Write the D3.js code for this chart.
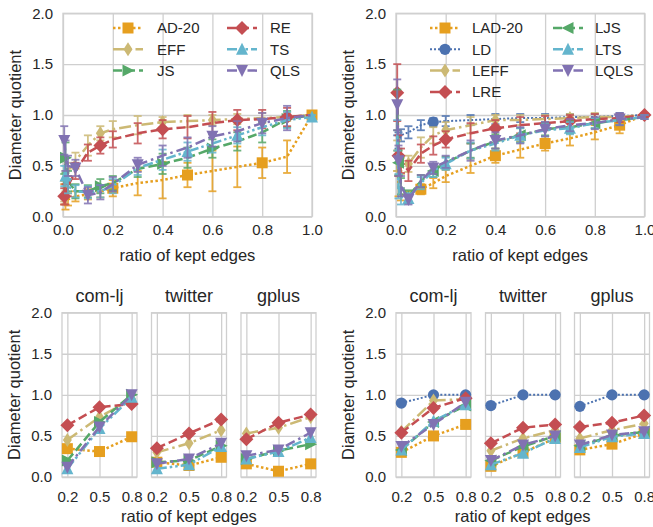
<!DOCTYPE html>
<html>
<head>
<meta charset="utf-8">
<script src="https://cdn.jsdelivr.net/npm/d3@7"></script>
<style>
  html, body { margin: 0; padding: 0; background: #ffffff; }
  svg { display: block; font-family: "Liberation Sans", Arial, sans-serif; }
</style>
</head>
<body>
<svg id="chart" width="653" height="527"></svg>
<script>
// ---------------- data ----------------
const X_RATIO = [0.005, 0.01, 0.02, 0.05, 0.1, 0.15, 0.2, 0.3, 0.4, 0.5, 0.6, 0.7, 0.8, 0.9, 1.0];
const Y_TICKS = [0, 0.5, 1.0, 1.5, 2.0];
const X_TICKS = [0, 0.2, 0.4, 0.6, 0.8, 1.0];

// plain methods
const AD20      = [0.22, 0.15, 0.17, 0.20, 0.22, 0.25, 0.28, 0.33, 0.36, 0.41, 0.45, 0.49, 0.53, 0.59, 1.00];
const AD20_ERR  = [0.10, 0.08, 0.06, 0.05, 0.05, 0.06, 0.08, 0.12, 0.18, 0.12, 0.20, 0.20, 0.15, 0.16, 0.00];
const AD20_MARK = [6, 9, 12, 14];
const EFF       = [0.25, 0.35, 0.45, 0.55, 0.70, 0.82, 0.86, 0.90, 0.93, 0.94, 0.95, 0.96, 0.97, 0.98, 1.00];
const EFF_ERR   = [0.10, 0.10, 0.08, 0.08, 0.10, 0.07, 0.08, 0.09, 0.05, 0.06, 0.05, 0.05, 0.05, 0.04, 0.00];
const EFF_MARK  = [5, 8, 10];
const JS        = [0.30, 0.58, 0.35, 0.25, 0.25, 0.30, 0.33, 0.47, 0.52, 0.58, 0.67, 0.74, 0.83, 0.96, 1.00];
const JS_ERR    = [0.12, 0.15, 0.10, 0.07, 0.06, 0.07, 0.07, 0.08, 0.10, 0.10, 0.09, 0.09, 0.10, 0.08, 0.00];
const JS_MARK   = [1, 5, 8, 10, 13];
const RE        = [0.20, 0.22, 0.30, 0.45, 0.63, 0.70, 0.76, 0.82, 0.86, 0.88, 0.92, 0.95, 0.96, 0.98, 1.00];
const RE_ERR    = [0.08, 0.10, 0.10, 0.08, 0.08, 0.08, 0.08, 0.10, 0.09, 0.11, 0.11, 0.10, 0.09, 0.09, 0.00];
const RE_MARK   = [0, 5, 8, 11, 13];
const TS        = [0.40, 0.40, 0.30, 0.25, 0.24, 0.25, 0.30, 0.48, 0.56, 0.64, 0.72, 0.80, 0.88, 0.95, 0.98];
const TS_ERR    = [0.10, 0.10, 0.07, 0.06, 0.06, 0.06, 0.07, 0.07, 0.10, 0.09, 0.09, 0.08, 0.08, 0.08, 0.02];
const TS_MARK   = [1, 9, 11, 14];
const QLS       = [0.75, 0.60, 0.50, 0.48, 0.21, 0.24, 0.32, 0.51, 0.60, 0.68, 0.79, 0.84, 0.92, 0.97, 1.00];
const QLS_ERR   = [0.14, 0.15, 0.10, 0.08, 0.08, 0.07, 0.07, 0.07, 0.10, 0.10, 0.10, 0.10, 0.10, 0.12, 0.00];
const QLS_MARK  = [0, 3, 4, 7, 10, 12];

// local variants
const LAD20      = [0.55, 0.30, 0.22, 0.20, 0.27, 0.33, 0.40, 0.50, 0.60, 0.66, 0.72, 0.77, 0.83, 0.90, 1.00];
const LAD20_ERR  = [0.10, 0.10, 0.06, 0.05, 0.05, 0.05, 0.06, 0.07, 0.07, 0.08, 0.07, 0.07, 0.07, 0.08, 0.00];
const LAD20_MARK = [4, 8, 10, 13];
const LD         = [0.70, 0.75, 0.80, 0.83, 0.90, 0.93, 0.94, 0.95, 0.96, 0.97, 0.97, 0.98, 0.98, 0.99, 1.00];
const LD_ERR     = [0.10, 0.08, 0.06, 0.06, 0.05, 0.04, 0.05, 0.05, 0.05, 0.04, 0.04, 0.03, 0.03, 0.03, 0.00];
const LD_MARK    = [5];
const LEFF       = [0.60, 0.55, 0.50, 0.52, 0.68, 0.80, 0.85, 0.90, 0.95, 0.95, 0.96, 0.97, 0.98, 0.98, 1.00];
const LEFF_ERR   = [0.15, 0.10, 0.08, 0.08, 0.10, 0.08, 0.08, 0.08, 0.05, 0.05, 0.04, 0.04, 0.04, 0.03, 0.00];
const LEFF_MARK  = [3, 6, 8, 11];
const LRE        = [1.22, 0.60, 0.55, 0.45, 0.62, 0.70, 0.76, 0.82, 0.87, 0.90, 0.92, 0.94, 0.96, 0.97, 1.00];
const LRE_ERR    = [0.28, 0.20, 0.12, 0.10, 0.09, 0.09, 0.08, 0.10, 0.08, 0.08, 0.07, 0.06, 0.05, 0.04, 0.02];
const LRE_MARK   = [0, 1, 6, 8, 11, 14];
const LJS        = [1.05, 0.53, 0.30, 0.20, 0.35, 0.45, 0.53, 0.65, 0.74, 0.80, 0.86, 0.88, 0.92, 0.95, 0.98];
const LJS_ERR    = [0.20, 0.12, 0.08, 0.06, 0.06, 0.06, 0.06, 0.07, 0.07, 0.07, 0.06, 0.06, 0.05, 0.05, 0.02];
const LJS_MARK   = [1, 5, 9, 12];
const LTS        = [0.80, 0.30, 0.20, 0.18, 0.33, 0.45, 0.52, 0.65, 0.72, 0.80, 0.85, 0.87, 0.92, 0.95, 0.98];
const LTS_ERR    = [0.15, 0.12, 0.08, 0.05, 0.06, 0.06, 0.06, 0.08, 0.07, 0.07, 0.06, 0.06, 0.05, 0.05, 0.02];
const LTS_MARK   = [3, 6, 9, 11];
const LQLS       = [1.10, 0.55, 0.30, 0.17, 0.35, 0.48, 0.54, 0.65, 0.75, 0.80, 0.86, 0.90, 0.92, 0.96, 0.98];
const LQLS_ERR   = [0.25, 0.15, 0.10, 0.05, 0.06, 0.06, 0.06, 0.10, 0.08, 0.08, 0.07, 0.06, 0.06, 0.06, 0.02];
const LQLS_MARK  = [0, 1, 3, 5, 8, 10, 13];

// large graphs: one row per dataset, values at KEPT ratios
const DATASETS = ["com-lj", "twitter", "gplus"];
const KEPT = [0.2, 0.5, 0.8];
const SUB_AD20 = [[0.345, 0.31, 0.49], [0.18, 0.14, 0.24], [0.16, 0.07, 0.16]];
const SUB_EFF  = [[0.45, 0.73, 0.95], [0.30, 0.41, 0.57], [0.53, 0.60, 0.73]];
const SUB_JS   = [[0.20, 0.67, 1.00], [0.18, 0.20, 0.38], [0.22, 0.32, 0.40]];
const SUB_RE   = [[0.63, 0.85, 0.89], [0.35, 0.53, 0.70], [0.46, 0.66, 0.76]];
const SUB_TS   = [[0.10, 0.59, 0.97], [0.10, 0.15, 0.37], [0.22, 0.31, 0.48]];
const SUB_QLS  = [[0.12, 0.61, 1.00], [0.16, 0.22, 0.41], [0.26, 0.33, 0.54]];

const SUB_LAD20 = [[0.30, 0.50, 0.64], [0.13, 0.30, 0.47], [0.33, 0.40, 0.53]];
const SUB_LD    = [[0.90, 1.00, 1.00], [0.87, 1.00, 1.00], [0.86, 1.00, 1.00]];
const SUB_LEFF  = [[0.55, 0.93, 0.95], [0.32, 0.47, 0.57], [0.47, 0.57, 0.65]];
const SUB_LRE   = [[0.54, 0.84, 0.96], [0.41, 0.60, 0.64], [0.61, 0.66, 0.75]];
const SUB_LJS   = [[0.33, 0.67, 0.87], [0.20, 0.37, 0.50], [0.38, 0.50, 0.55]];
const SUB_LTS   = [[0.33, 0.68, 0.88], [0.15, 0.29, 0.47], [0.36, 0.49, 0.53]];
const SUB_LQLS  = [[0.37, 0.64, 0.91], [0.20, 0.39, 0.50], [0.39, 0.51, 0.55]];

// ---------------- styles ----------------
const STYLE = {
  "AD-20": { color: "#E69F1F", dash: "2.5,2.5", marker: "square" },
  "EFF":   { color: "#CCB974", dash: "12,4,2.5,4", marker: "thin" },
  "JS":    { color: "#55A868", dash: "9,4", marker: "right" },
  "RE":    { color: "#C44E52", dash: "9,4", marker: "diamond" },
  "TS":    { color: "#64B5CD", dash: "10,3,2.5,3,2.5,3", marker: "up" },
  "QLS":   { color: "#8172B2", dash: "10,4,2.5,4", marker: "down" },
  "LD":    { color: "#4C72B0", dash: "2,2", marker: "circle", width: 2 },
  "LJS":   { color: "#55A868", dash: "9,4", marker: "left" }
};
STYLE["LAD-20"] = STYLE["AD-20"]; STYLE["LEFF"] = STYLE["EFF"]; STYLE["LRE"] = STYLE["RE"];
STYLE["LTS"] = STYLE["TS"]; STYLE["LQLS"] = STYLE["QLS"];

const GRID = "#cfcfcf";
const TEXT = "#262626";

function markerPath(kind) {
  switch (kind) {
    case "square":  return "M-5.5,-5.5H5.5V5.5H-5.5Z";
    case "diamond": return "M0,-7L7,0L0,7L-7,0Z";
    case "thin":    return "M0,-7L4.5,0L0,7L-4.5,0Z";
    case "up":      return "M0,-6.5L6,5.5L-6,5.5Z";
    case "down":    return "M0,6.5L6,-5.5L-6,-5.5Z";
    case "right":   return "M6.5,0L-5.5,6L-5.5,-6Z";
    case "left":    return "M-6.5,0L5.5,-6L5.5,6Z";
    case "circle":  return d3.symbol(d3.symbolCircle, Math.PI * 5.6 * 5.6)();
  }
}

const svg = d3.select("#chart");

// ---------------- panel frame ----------------
function drawFrame(g, x, y, opts) {
  const [x0, x1] = x.range();
  const [y0, y1] = y.range(); // y0 bottom, y1 top
  const h = y0 - y1, w = x1 - x0;

  const gx = g.append("g").attr("transform", `translate(0,${y0})`)
    .call(d3.axisBottom(x).tickValues(opts.xTicks).tickSize(-h).tickPadding(opts.xPad)
      .tickFormat(d3.format(".1f")));
  gx.select(".domain").remove();
  gx.selectAll("line").attr("stroke", GRID).attr("stroke-width", 1.3);
  gx.selectAll("text").attr("fill", TEXT).style("font-size", "15px").style("font-family", "Liberation Sans, Arial, sans-serif");

  const gy = g.append("g").attr("transform", `translate(${x0},0)`)
    .call(d3.axisLeft(y).tickValues(Y_TICKS).tickSize(-w).tickPadding(10)
      .tickFormat(d3.format(".1f")));
  gy.select(".domain").remove();
  gy.selectAll("line").attr("stroke", GRID).attr("stroke-width", 1.3);
  gy.selectAll("text").attr("fill", TEXT).style("font-size", "15px").style("font-family", "Liberation Sans, Arial, sans-serif");
  if (!opts.showY) gy.selectAll("text").remove();

  g.append("rect").attr("x", x0).attr("y", y1).attr("width", w).attr("height", h)
    .attr("fill", "none").attr("stroke", GRID).attr("stroke-width", 1.3);
}

// ---------------- one series ----------------
function drawSeries(g, x, y, name, xs, ys, errs, marks) {
  const st = STYLE[name];
  const pts = xs.map((v, i) => ({ x: v, y: ys[i], e: errs ? errs[i] : 0, i }));
  const sg = g.append("g");

  if (errs) {
    const eg = sg.append("g").attr("stroke", st.color).attr("stroke-width", 1.8).attr("opacity", 0.85);
    pts.filter(p => p.e > 0).forEach(p => {
      const cx = x(p.x), lo = y(p.y - p.e), hi = y(p.y + p.e);
      eg.append("line").attr("x1", cx).attr("x2", cx).attr("y1", lo).attr("y2", hi);
      eg.append("line").attr("x1", cx - 4).attr("x2", cx + 4).attr("y1", lo).attr("y2", lo);
      eg.append("line").attr("x1", cx - 4).attr("x2", cx + 4).attr("y1", hi).attr("y2", hi);
    });
  }

  const line = d3.line().x(p => x(p.x)).y(p => y(p.y));
  sg.append("path").attr("d", line(pts)).attr("fill", "none")
    .attr("stroke", st.color).attr("stroke-width", st.width || 2.5)
    .attr("stroke-dasharray", st.dash);

  const mpts = marks ? pts.filter(p => marks.includes(p.i)) : pts;
  sg.selectAll(null).data(mpts).join("path")
    .attr("d", markerPath(st.marker))
    .attr("transform", p => `translate(${x(p.x)},${y(p.y)})`)
    .attr("fill", st.color);
}

function drawLegend(g, entries, cols) {
  cols.forEach((col, ci) => {
    col.names.forEach((name, ri) => {
      const st = STYLE[name];
      const cy = col.y0 + ri * 21.3;
      g.append("line").attr("x1", col.x).attr("x2", col.x + 30).attr("y1", cy).attr("y2", cy)
        .attr("stroke", st.color).attr("stroke-width", st.width || 2.5).attr("stroke-dasharray", st.dash);
      g.append("path").attr("d", markerPath(st.marker)).attr("transform", `translate(${col.x + 15},${cy})`)
        .attr("fill", st.color);
      g.append("text").attr("x", col.tx).attr("y", cy).attr("dy", "0.36em")
        .attr("fill", TEXT).style("font-size", "15px").text(name);
    });
  });
}

function axisLabels(g, cx, cyX, yLabelX, cyY) {
  g.append("text").attr("x", cx).attr("y", cyX).attr("text-anchor", "middle")
    .attr("fill", TEXT).style("font-size", "16.5px").text("ratio of kept edges");
  g.append("text").attr("transform", `translate(${yLabelX},${cyY}) rotate(-90)`)
    .attr("text-anchor", "middle").attr("fill", TEXT).style("font-size", "16.5px").text("Diameter quotient");
}

// ---------------- top charts ----------------
function topChart(left, right, series, legendCols) {
  const g = svg.append("g");
  const x = d3.scaleLinear().domain([0, 1]).range([left, right]);
  const y = d3.scaleLinear().domain([0, 2]).range([216.7, 13.3]);
  drawFrame(g, x, y, { xTicks: X_TICKS, xPad: 8, showY: true });
  drawLegend(g, null, legendCols);
  series.forEach(s => drawSeries(g, x, y, s[0], X_RATIO, s[1], s[2], s[3]));
  axisLabels(g, (left + right) / 2, 261, left - 42, 115);
}

topChart(63, 312, [
  ["AD-20", AD20, AD20_ERR, AD20_MARK],
  ["EFF", EFF, EFF_ERR, EFF_MARK],
  ["JS", JS, JS_ERR, JS_MARK],
  ["RE", RE, RE_ERR, RE_MARK],
  ["TS", TS, TS_ERR, TS_MARK],
  ["QLS", QLS, QLS_ERR, QLS_MARK]
], [
  { x: 113, tx: 157, y0: 28, names: ["AD-20", "EFF", "JS"] },
  { x: 227, tx: 270, y0: 28, names: ["RE", "TS", "QLS"] }
]);

topChart(396, 644.5, [
  ["LAD-20", LAD20, LAD20_ERR, LAD20_MARK],
  ["LD", LD, LD_ERR, LD_MARK],
  ["LEFF", LEFF, LEFF_ERR, LEFF_MARK],
  ["LRE", LRE, LRE_ERR, LRE_MARK],
  ["LJS", LJS, LJS_ERR, LJS_MARK],
  ["LTS", LTS, LTS_ERR, LTS_MARK],
  ["LQLS", LQLS, LQLS_ERR, LQLS_MARK]
], [
  { x: 430, tx: 472, y0: 28, names: ["LAD-20", "LD", "LEFF", "LRE"] },
  { x: 553, tx: 595, y0: 28, names: ["LJS", "LTS", "LQLS"] }
]);

// ---------------- bottom small multiples ----------------
function bottomGroup(panelLefts, series) {
  const g = svg.append("g");
  const y = d3.scaleLinear().domain([0, 2]).range([477, 312.7]);
  panelLefts.forEach((pl, di) => {
    const x = d3.scaleLinear().domain([0.15, 0.85]).range([pl, pl + 75]);
    const pg = g.append("g");
    drawFrame(pg, x, y, { xTicks: KEPT, xPad: 14, showY: di === 0 });
    pg.append("text").attr("x", pl + 37.5).attr("y", 302).attr("text-anchor", "middle")
      .attr("fill", TEXT).style("font-size", "18px").text(DATASETS[di]);
    series.forEach(s => drawSeries(pg, x, y, s[0], KEPT, s[1][di], null, null));
  });
  const l = panelLefts[0], r = panelLefts[2] + 75;
  axisLabels(g, (l + r) / 2, 522, l - 42, 394.8);
}

bottomGroup([62, 151.5, 241], [
  ["AD-20", SUB_AD20], ["EFF", SUB_EFF], ["JS", SUB_JS],
  ["RE", SUB_RE], ["TS", SUB_TS], ["QLS", SUB_QLS]
]);

bottomGroup([396, 485.5, 574.5], [
  ["LAD-20", SUB_LAD20], ["LD", SUB_LD], ["LEFF", SUB_LEFF], ["LRE", SUB_LRE],
  ["LJS", SUB_LJS], ["LTS", SUB_LTS], ["LQLS", SUB_LQLS]
]);
</script>
</body>
</html>
